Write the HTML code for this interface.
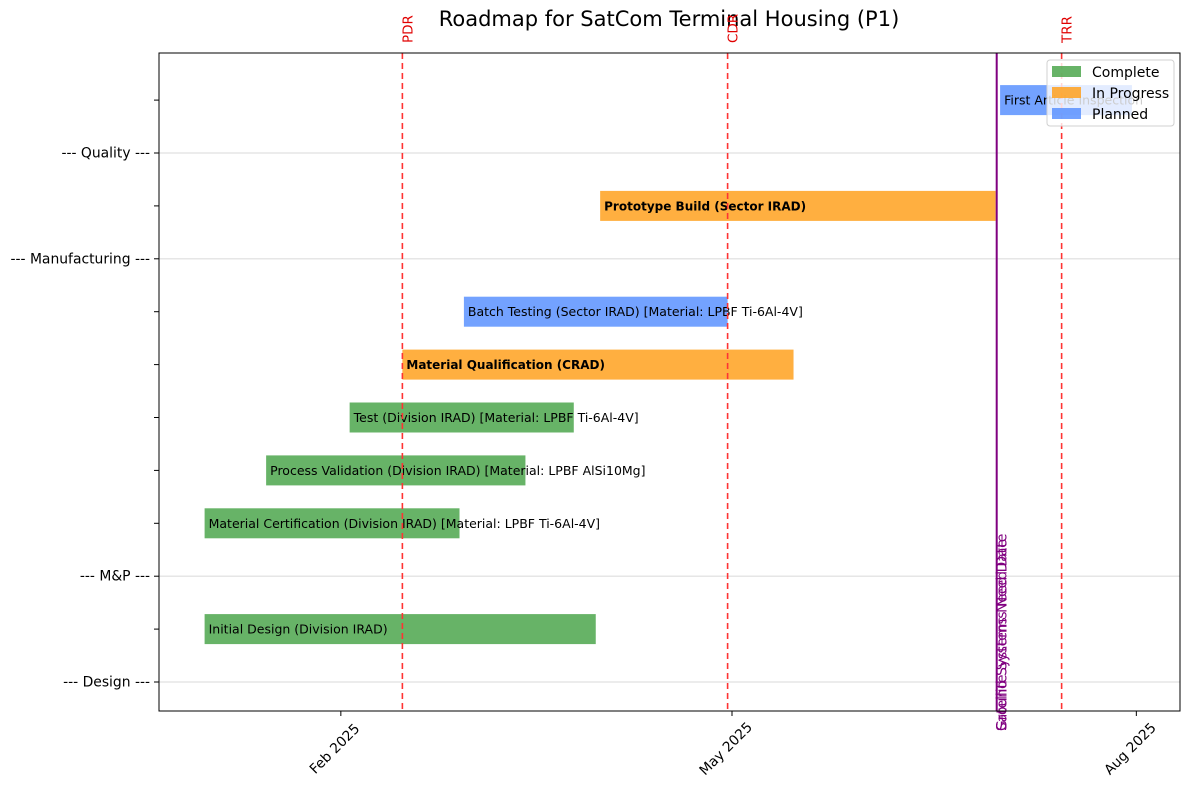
<!DOCTYPE html>
<html><head><meta charset="utf-8"><style>
body{margin:0;background:#fff}
svg{font-family:"DejaVu Sans","Liberation Sans",sans-serif}
</style></head><body>
<svg id="chart" width="1189" height="789"></svg>
<script>
const taskNames=["Initial Design (Division IRAD)","Material Certification (Division IRAD) [Material: LPBF Ti-6Al-4V]","Process Validation (Division IRAD) [Material: LPBF AlSi10Mg]","Test (Division IRAD) [Material: LPBF Ti-6Al-4V]","Material Qualification (CRAD)","Batch Testing (Sector IRAD) [Material: LPBF Ti-6Al-4V]","Prototype Build (Sector IRAD)","First Article Inspection"];
const taskRows=[1,3,4,5,6,7,9,11];
const taskStarts=["2025-01-01","2025-01-01","2025-01-15","2025-02-03","2025-02-15","2025-03-01","2025-04-01","2025-07-01"];
const taskEnds=["2025-03-31","2025-02-28","2025-03-15","2025-03-26","2025-05-15","2025-04-30","2025-06-30","2025-07-31"];
const taskStatus=["Complete","Complete","Complete","Complete","In Progress","Planned","In Progress","Planned"];
const sectionNames=["--- Design ---","--- M&P ---","--- Manufacturing ---","--- Quality ---"];
const sectionRows=[0,2,8,10];
const milestoneNames=["PDR","CDR","TRR"];
const milestoneDates=["2025-02-15","2025-04-30","2025-07-15"];
const needDate="2025-06-30";
const tickLabels=["Feb 2025","May 2025","Aug 2025"];
const tickDates=["2025-02-01","2025-05-01","2025-08-01"];

const NS="http://www.w3.org/2000/svg";
const svg=document.getElementById('chart');
const L=159,R=1180,T=53,B=711;
const d0=Date.UTC(2025,0,1);
function day(s){return (Date.parse(s+"T00:00:00Z")-d0)/86400000;}
function xs(s){return 204.6+day(s)*4.395;}
function ys(r){return 682-r*52.9;}
function el(tag,attrs,txt){const e=document.createElementNS(NS,tag);for(const k in attrs)e.setAttribute(k,attrs[k]);if(txt!=null)e.textContent=txt;svg.appendChild(e);return e;}
const colors={"Complete":"#4ca64c","In Progress":"#ffa11f","Planned":"#5a92ff"};

let t=el('text',{x:669,y:26,'text-anchor':'middle','font-size':21},"Roadmap for SatCom Terminal Housing (P1)");



sectionRows.forEach((r,i)=>{
  const g=el('line',{x1:L,x2:R,y1:ys(r),y2:ys(r),stroke:'#e6e6e6','stroke-width':1.5});
  
  
});
for(let r=0;r<=11;r++){
  const tk=el('line',{x1:L-5,x2:L,y1:ys(r),y2:ys(r),stroke:'#000'});
  
  
}
sectionNames.forEach((n,i)=>{
  const lb=el('text',{x:L-9,y:ys(sectionRows[i])+4.5,'text-anchor':'end','font-size':13.9},n);
  
  
});

taskNames.forEach((n,i)=>{
  const x1=xs(taskStarts[i]),x2=xs(taskEnds[i]),y=ys(taskRows[i]);
  const b=el('rect',{x:x1,y:y-15,width:x2-x1,height:30,fill:colors[taskStatus[i]],opacity:0.85});
  
  
  const bold=taskStatus[i]==="In Progress";
  const lb=el('text',{x:x1+4,y:y+4.5,'font-size':bold?12:12.5,'font-weight':bold?'bold':'normal'},n);
  
  
});

milestoneNames.forEach((n,i)=>{
  const x=xs(milestoneDates[i]);
  const ln=el('line',{x1:x,x2:x,y1:T,y2:B,stroke:'#ff3333','stroke-width':1.6,'stroke-dasharray':'6,4'});
  
  
  const lb=el('text',{x:x+10,y:T-10,'font-size':13.5,fill:'#e00000',transform:`rotate(-90 ${x+10} ${T-10})`},n);
  
  
});

const nx=xs(needDate)+1;
let nl=el('line',{x1:nx,x2:nx,y1:T,y2:B,stroke:'#800080','stroke-width':2});


["Satellite Systems Need Date","Ground Systems Need Date"].forEach(s=>{
  const lb=el('text',{x:nx+10,y:731,'font-size':13.8,fill:'#800080',transform:`rotate(-90 ${nx+10} 731)`},s);
  
  
});

let fr=el('rect',{x:L,y:T,width:R-L,height:B-T,fill:'none',stroke:'#000','stroke-width':1});



tickLabels.forEach((n,i)=>{
  const x=xs(tickDates[i]);
  const tk=el('line',{x1:x,x2:x,y1:B,y2:B+5,stroke:'#000'});
  
  
  const lb=el('text',{x:x-3,y:752,'text-anchor':'middle','font-size':13.8,transform:`rotate(-45 ${x-3} 752)`},n);
  
  
});

// legend
let lg=el('rect',{x:1047,y:60,width:127,height:66,rx:3,fill:'#fff','fill-opacity':0.8,stroke:'#d0d0d0'});


["Complete","In Progress","Planned"].forEach((s,i)=>{
  const y=66+i*21;
  const sw=el('rect',{x:1052,y:y,width:29,height:11,fill:colors[s],opacity:0.85});
  
  
  const lb=el('text',{x:1092,y:y+11,'font-size':14},s);
  
  
});
</script>
</body></html>
